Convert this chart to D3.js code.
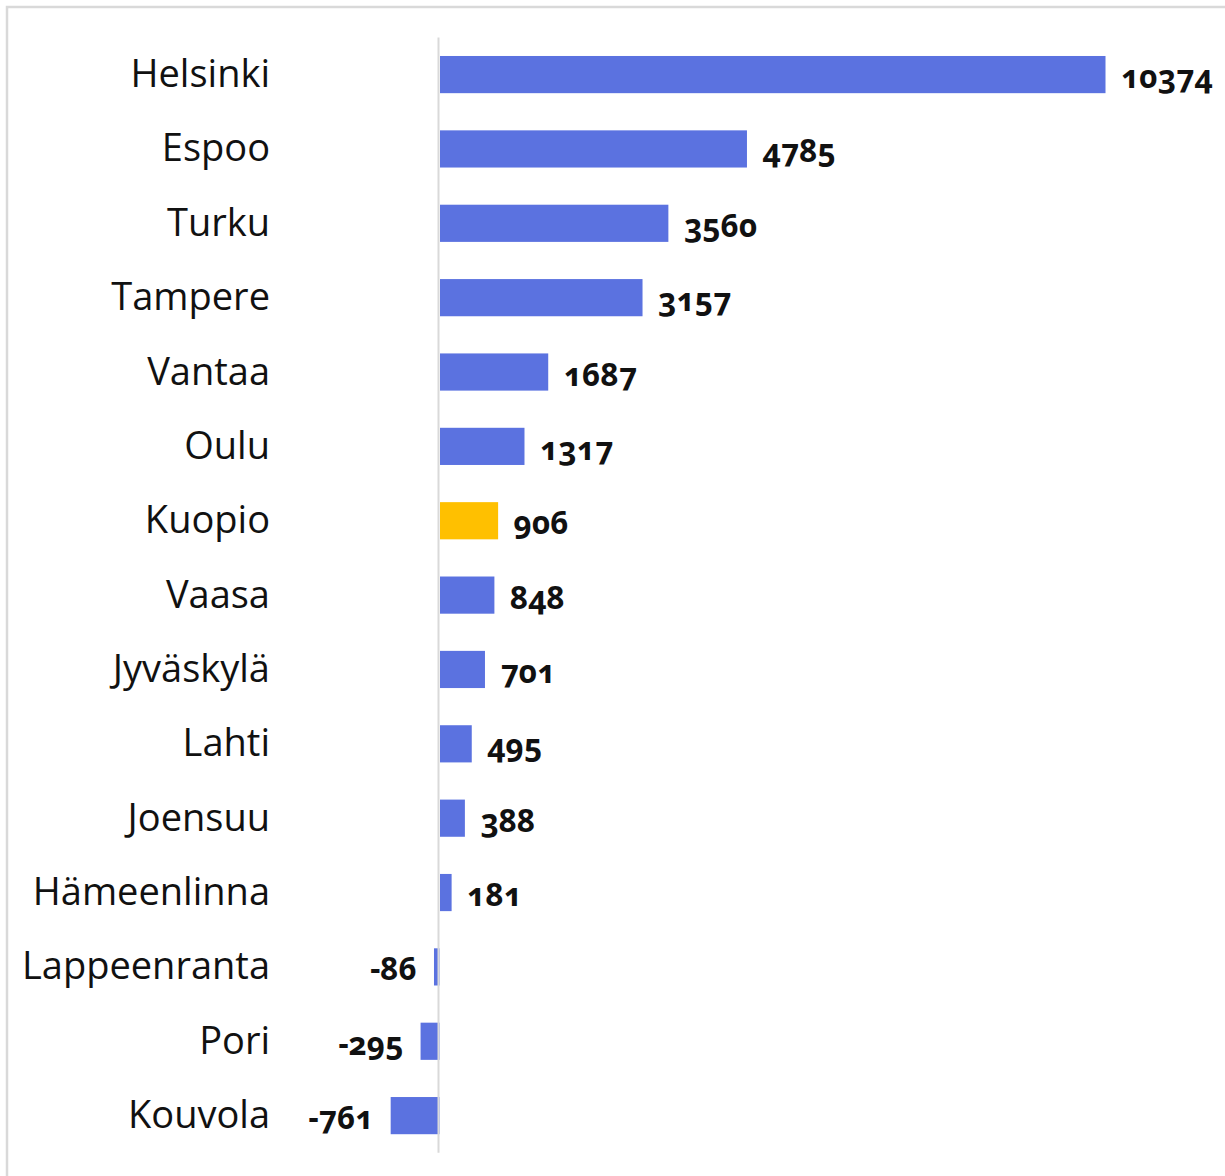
<!DOCTYPE html>
<html>
<head>
<meta charset="utf-8">
<script src="https://cdn.jsdelivr.net/npm/d3@7/dist/d3.min.js"></script>
<style>
	body { margin: 0; background: #fff; }
	.cat { font-family: "Open Sans", "Noto Sans", sans-serif; font-size: 38px; fill: #111; }
	.val { font-family: "Noto Sans", "Open Sans", sans-serif; font-size: 31.5px; font-weight: 700; fill: #111;
		font-variant-numeric: oldstyle-nums; font-feature-settings: "onum" 1; }
</style>
</head>
<body>
<script>
var cities = ["Helsinki", "Espoo", "Turku", "Tampere", "Vantaa", "Oulu", "Kuopio", "Vaasa", "Jyväskylä", "Lahti", "Joensuu", "Hämeenlinna", "Lappeenranta", "Pori", "Kouvola"]
var values = [10374, 4785, 3560, 3157, 1687, 1317, 906, 848, 701, 495, 388, 181, -86, -295, -761]
var highlight = "Kuopio"

var width = 1225, height = 1176
var svg = d3.select("body").append("svg")
	.attr("width", width)
	.attr("height", height)

// outer frame, runs past the right and bottom edge
svg.append("rect")
	.attr("x", 7).attr("y", 7)
	.attr("width", 1300).attr("height", 1300)
	.attr("fill", "none")
	.attr("stroke", "#d9d9d9")
	.attr("stroke-width", 2.5)

var x = d3.scaleLinear().domain([0, 10374]).range([439.5, 1105])
var y = d3.scaleBand().domain(cities).range([37.4, 1152.8]).paddingInner(0.5).paddingOuter(0.25)

var rows = svg.selectAll("g.row")
	.data(cities.map((c, i) => ({city: c, value: values[i]})))
	.enter().append("g")
	.attr("class", "row")

rows.append("rect")
	.attr("x", d => Math.min(x(0), x(d.value)) + (d.value > 0 ? 0.5 : 0))
	.attr("y", d => y(d.city))
	.attr("width", d => Math.abs(x(d.value) - x(0)))
	.attr("height", y.bandwidth())
	.attr("fill", d => d.city == highlight ? "#ffc000" : "#5b72e0")

rows.append("text")
	.attr("class", "cat")
	.attr("x", 270)
	.attr("y", d => y(d.city) + y.bandwidth() / 2)
	.attr("dy", "0.33em")
	.style("text-anchor", "end")
	.text(d => d.city)

rows.append("text")
	.attr("class", "val")
	.attr("x", d => d.value >= 0 ? x(d.value) + 16 : x(d.value) - 17)
	.attr("y", d => y(d.city) + y.bandwidth() / 2)
	.attr("dy", "0.43em")
	.style("text-anchor", d => d.value >= 0 ? "start" : "end")
	.text(d => d.value)

// zero axis line
svg.append("line")
	.attr("x1", x(0) - 1).attr("x2", x(0) - 1)
	.attr("y1", y.range()[0]).attr("y2", y.range()[1])
	.attr("stroke", "#d9d9d9")
	.attr("stroke-width", 2)
</script>
</body>
</html>
